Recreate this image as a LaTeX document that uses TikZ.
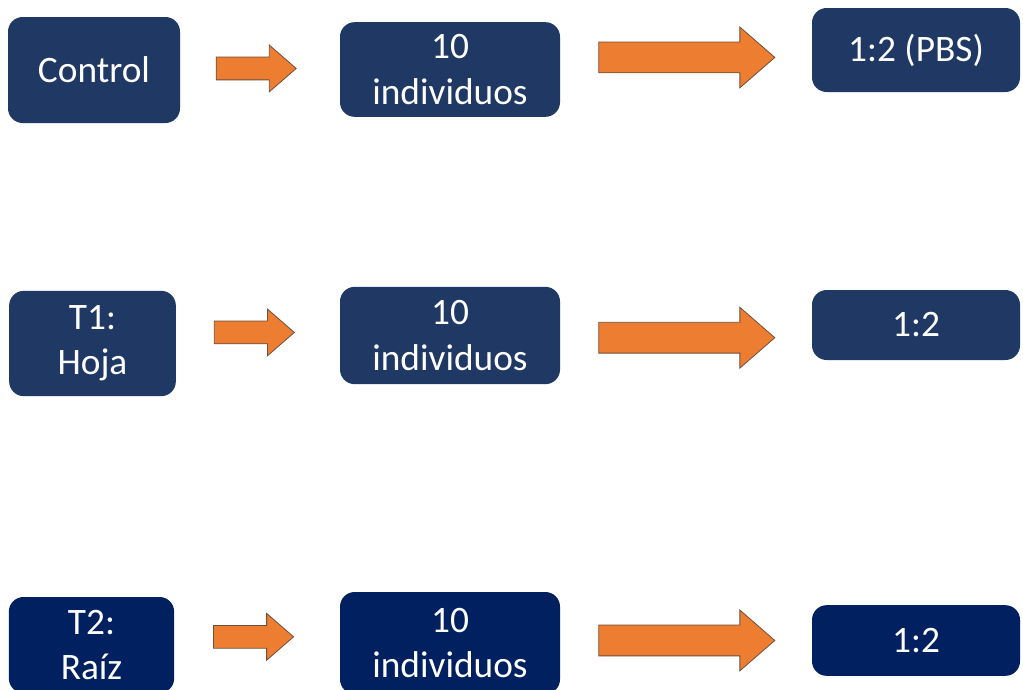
\documentclass[tikz,border=0pt]{standalone}
\usepackage{fontspec}
\setmainfont{Carlito}
\usepackage{tikz}
\usetikzlibrary{shapes.arrows}
\definecolor{navy}{RGB}{31,56,100}
\definecolor{deepnavy}{RGB}{0,32,96}
\definecolor{flecha}{RGB}{237,125,49}
\definecolor{borde}{RGB}{110,80,60}

\tikzset{
  caja/.style={rectangle, rounded corners=11pt, fill=navy, text=white, align=center,
    inner sep=0pt, font=\fontsize{28}{34}\selectfont},
  flechita/.style={single arrow, fill=flecha, draw=borde, line width=0.6pt,
    single arrow tip angle=82, inner sep=0pt, minimum width=0pt, text depth=0pt,
    text height=16.5pt, single arrow head extend=9pt, minimum height=60pt},
  flechota/.style={flechita, text height=22.5pt, single arrow head extend=11.25pt,
    minimum height=132pt}
}

\begin{document}
\begin{tikzpicture}[x=0.75pt,y=-0.75pt]
        \clip (0,0) rectangle (1023,689);
        \fill[white] (0,0) rectangle (1023,689);
        % fila control
        \node[caja, minimum width=129pt, minimum height=79.5pt] (ctl) at (94,70) {Control};
        \node[caja, minimum width=165pt, minimum height=71pt] (ind1) at (450,69.5) {10\\individuos};
        \node[caja, minimum width=156pt, minimum height=63pt] (pbs) at (916,50) {1:2 (PBS)};
        \path (ctl) -- node[flechita, pos=0.435, yshift=1pt] (f11) {} (ind1);
        \path (ind1) -- node[flechota, pos=0.468, yshift=1.9pt] (f12) {} (pbs);
        % fila T1
        \node[caja, minimum width=125pt, minimum height=79pt] (hoja) at (92.5,343.5) {T1:\\Hoja};
        \node[caja, minimum width=165pt, minimum height=73pt] (ind2) at (450,335.5) {10\\individuos};
        \node[caja, minimum width=156pt, minimum height=52.5pt] (dil2) at (916,325) {1:2};
        \path (hoja) -- node[flechita, pos=0.438, yshift=5.7pt] (f21) {} (ind2);
        \path (ind2) -- node[flechota, pos=0.468, yshift=-5.5pt] (f22) {} (dil2);
        % fila T2
        \node[caja, fill=deepnavy, minimum width=124pt, minimum height=72pt] (raiz) at (91.5,645) {T2:\\Raíz};
        \node[caja, fill=deepnavy, minimum width=165pt, minimum height=76.5pt] (ind3) at (450,643) {10\\individuos};
        \node[caja, fill=deepnavy, minimum width=156pt, minimum height=53pt] (dil3) at (916,640.5) {1:2};
        \path (raiz) -- node[flechita, pos=0.439, yshift=5.5pt] (f31) {} (ind3);
        \path (ind3) -- node[flechota, pos=0.468, yshift=1pt] (f32) {} (dil3);
      \end{tikzpicture}
\end{document}
